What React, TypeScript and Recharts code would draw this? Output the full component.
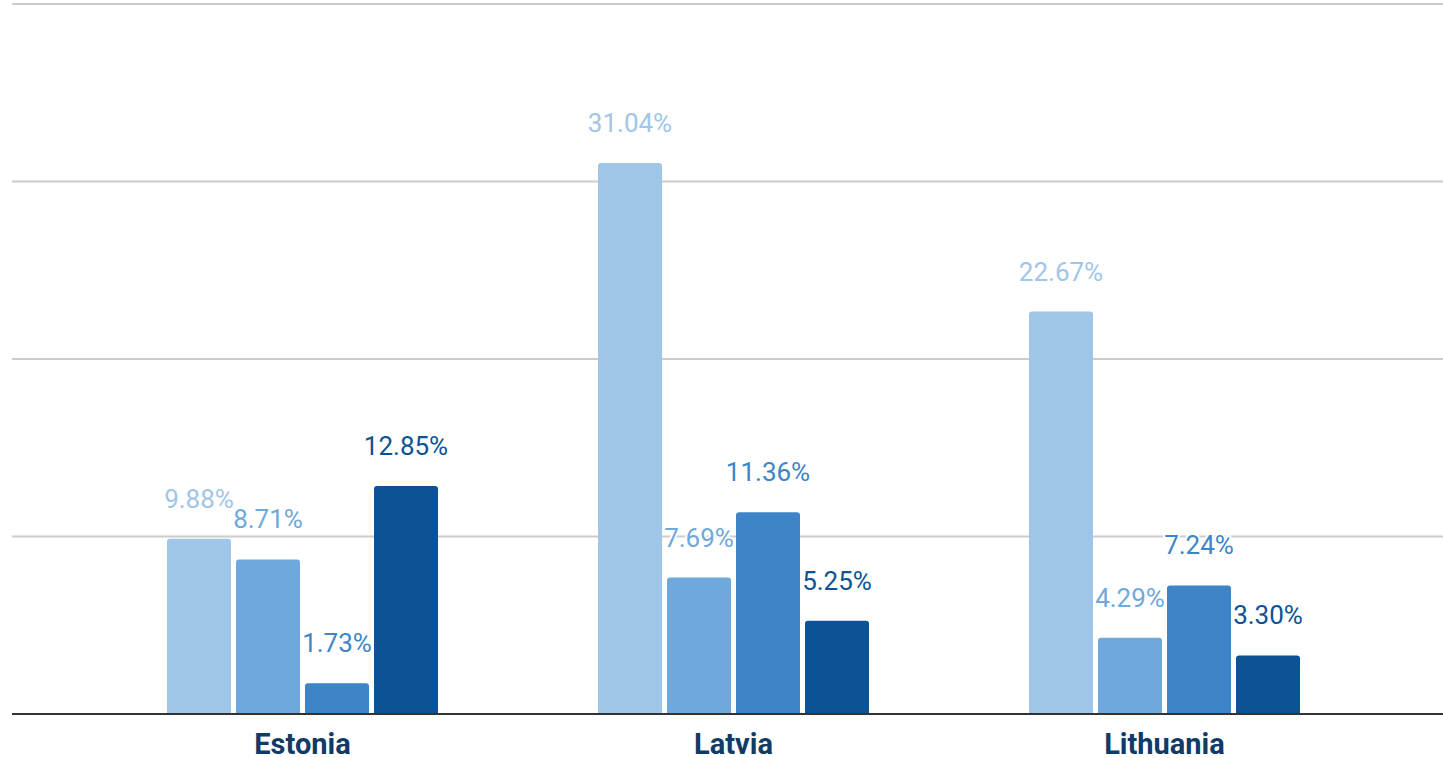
import { BarChart, Bar, XAxis, YAxis, CartesianGrid, LabelList } from "recharts"

const countries = ["Estonia", "Latvia", "Lithuania"]
const series1 = [9.88, 31.04, 22.67]
const series2 = [8.71, 7.69, 4.29]
const series3 = [1.73, 11.36, 7.24]
const series4 = [12.85, 5.25, 3.3]
const yTicks = [0, 10, 20, 30, 40]

const colors = ["#9fc5e8", "#6fa8dc", "#3d85c6", "#0b5394"]
const keys = ["s1", "s2", "s3", "s4"]

const data = countries.map((name, i) => ({
  name,
  s1: series1[i],
  s2: series2[i],
  s3: series3[i],
  s4: series4[i],
}))

const makeLabel = (color: string) => (props: any) => {
  const { x, y, width, value } = props
  return (
    <text
      x={x + width / 2}
      y={y - 31}
      textAnchor="middle"
      fill={color}
      fontSize={26}
      fontFamily="Roboto"
      stroke="#fff"
      strokeWidth={4}
      paintOrder="stroke"
    >
      {`${Number(value).toFixed(2)}%`}
    </text>
  )
}

const CountryTick = (props: any) => {
  const { x, payload } = props
  return (
    <text
      x={x}
      y={754}
      textAnchor="middle"
      fill="#0f3b66"
      fontSize={29}
      fontWeight={700}
      fontFamily="Roboto"
    >
      {payload.value}
    </text>
  )
}

export default function App() {
  return (
    <div
      style={{
        position: "absolute",
        left: 0,
        top: 0,
        width: 1443,
        height: 758,
        overflow: "hidden",
        background: "#fff",
      }}
    >
      <BarChart
        width={1470}
        height={758}
        data={data}
        margin={{ top: 4, right: 16, bottom: 0, left: 12 }}
        barGap={5}
      >
        <CartesianGrid vertical={false} stroke="#cccccc" strokeWidth={2} />
        <XAxis
          dataKey="name"
          height={44}
          padding={{ left: 75, right: 74 }}
          tick={<CountryTick />}
          tickLine={false}
          axisLine={{ stroke: "#333", strokeWidth: 2 }}
          interval={0}
        />
        <YAxis hide domain={[0, 40]} ticks={yTicks} />
        {keys.map((k, i) => (
          <Bar
            key={k}
            dataKey={k}
            fill={colors[i]}
            barSize={64}
            radius={[3, 3, 0, 0]}
            isAnimationActive={false}
          >
            <LabelList dataKey={k} content={makeLabel(colors[i])} />
          </Bar>
        ))}
      </BarChart>
    </div>
  )
}
